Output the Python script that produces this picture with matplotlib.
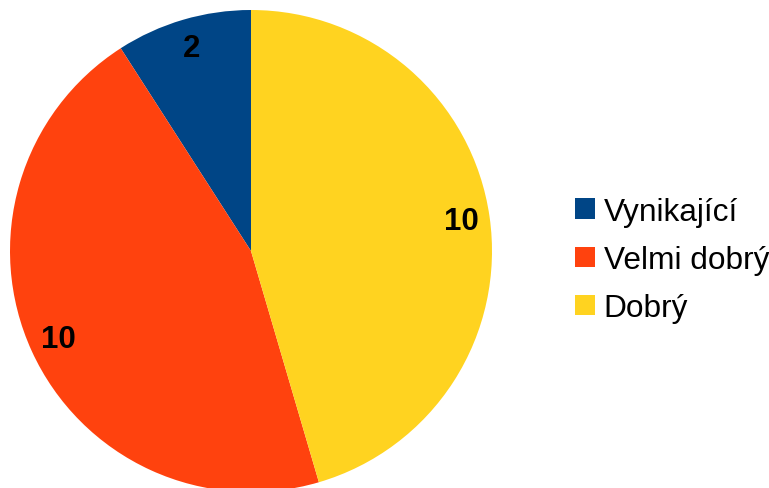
import matplotlib.pyplot as plt

labels = ['Vynikající', 'Velmi dobrý', 'Dobrý']
values = [2, 10, 10]
colors = ['#004586', '#ff420e', '#ffd320']

plt.rcParams['font.family'] = ['Liberation Sans', 'DejaVu Sans']

fig = plt.figure(figsize=(7.69, 4.89), dpi=100)
ax = fig.add_axes([10 / 769, -4 / 489, 482 / 769, 482 / 489])

wedges, texts = ax.pie(values, colors=colors, startangle=90, counterclock=True,
                       labels=[str(v) for v in values], labeldistance=0.88,
                       radius=1.0)
for t in texts:
    t.set_fontsize(22.5)
    t.set_fontweight('bold')
    t.set_ha('center')
    t.set_va('center')
ax.set_xlim(-1, 1)
ax.set_ylim(-1, 1)
ax.set_aspect('equal')

leg = fig.legend(wedges, labels, loc='center left',
                 bbox_to_anchor=(575 / 769, 1 - 261 / 489),
                 frameon=False, fontsize=22.8, handlelength=0.62, handleheight=0.62,
                 handletextpad=0.28, labelspacing=0.58, borderpad=0, borderaxespad=0)

fig.savefig('out.png', dpi=100)
